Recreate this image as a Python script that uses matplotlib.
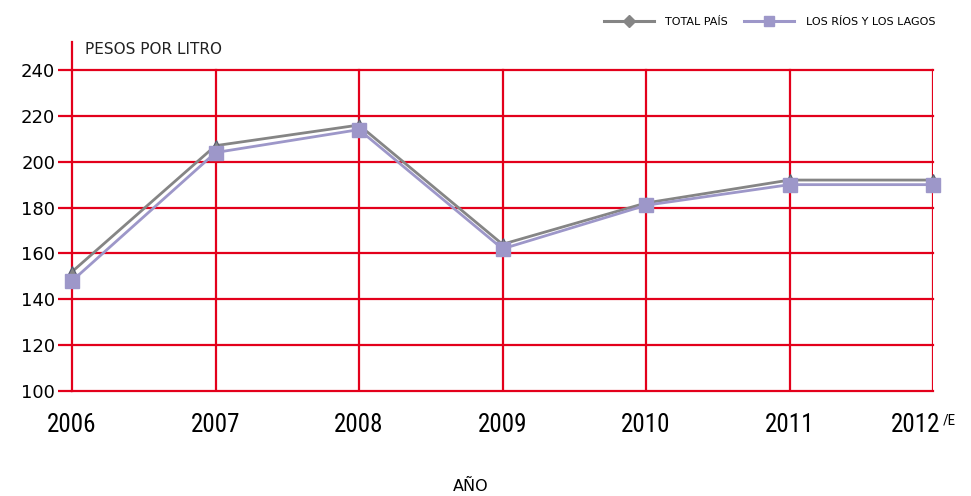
import matplotlib
matplotlib.use("Agg")
import matplotlib.pyplot as plt
from matplotlib.lines import Line2D
from matplotlib.transforms import ScaledTranslation
from matplotlib import font_manager as fm

years = [2006, 2007, 2008, 2009, 2010, 2011, 2012]
year_labels = ["2006", "2007", "2008", "2009", "2010", "2011", "2012"]
last_label_sup = "/E"
total_pais = [152, 207, 216, 164, 182, 192, 192]
los_rios_lagos = [148, 204, 214, 162, 181, 190, 190]
yticks = [100, 120, 140, 160, 180, 200, 220, 240]

RED = "#e3001b"
GRAY = "#858585"
PURPLE = "#9d97c9"

# pick a condensed font if one is installed
cond_family = "DejaVu Sans"
cond_stretch = "normal"
names = {f.name: f for f in fm.fontManager.ttflist}
for cand in ["Liberation Sans Narrow", "DejaVu Sans Condensed", "Roboto Condensed", "Open Sans Condensed"]:
    if cand in names:
        cond_family = cand
        break
else:
    for f in fm.fontManager.ttflist:
        if f.name == "DejaVu Sans" and f.stretch in ("condensed", "semi-condensed") and f.weight in (400, "normal"):
            cond_stretch = "condensed"
            break

fig = plt.figure(figsize=(9.71, 4.96), dpi=100)
ax = fig.add_axes([72/971, 1-391/496, (933-72)/971, (391-42)/496])

ax.set_xlim(2006, 2012)
ax.set_ylim(100, 100 + (240-100) * (391-42) / (391-70))

for y in yticks:
    ax.plot([2006, 2012], [y, y], color=RED, lw=1.6, zorder=1, clip_on=False)
for x in years[1:]:
    ax.plot([x, x], [100, 240], color=RED, lw=1.6, zorder=1)

ax.plot(years, total_pais, color=GRAY, lw=2.0, marker="^", ms=9,
        mfc=GRAY, mec="#555a70", mew=0.8, zorder=3, clip_on=False)
ax.plot(years, los_rios_lagos, color=PURPLE, lw=2.0, marker="s", ms=10,
        mfc=PURPLE, mec=PURPLE, zorder=4, clip_on=False)

for s in ["top", "right", "bottom"]:
    ax.spines[s].set_visible(False)
ax.spines["left"].set_color(RED)
ax.spines["left"].set_linewidth(1.6)

ax.set_yticks(yticks)
ax.set_yticklabels([str(v) for v in yticks], fontsize=13)
ax.tick_params(axis="y", length=10, width=1.6, color=RED, pad=2)
ax.set_xticks(years)
ax.set_xticklabels(year_labels, fontsize=18, family=cond_family, stretch=cond_stretch)
ax.tick_params(axis="x", length=0, pad=16)
lab = ax.get_xticklabels()[-1]
lab.set_transform(lab.get_transform() + ScaledTranslation(-17/100, 0, fig.dpi_scale_trans))
ax.annotate(last_label_sup, xy=(years[-1], 100), xycoords="data",
            xytext=(7, -16), textcoords="offset points", fontsize=11,
            ha="left", va="top", family=cond_family, stretch=cond_stretch)

fig.text(85/971, 1-50/496, "PESOS POR LITRO", fontsize=11, va="center", ha="left", color="#222222")
fig.text(471/971, 1-486/496, "AÑO", fontsize=11.5, va="center", ha="center")

handles = [Line2D([], [], color=GRAY, lw=2.2, marker="D", ms=6, mfc=GRAY, mec=GRAY),
           Line2D([], [], color=PURPLE, lw=2.2, marker="s", ms=7, mfc=PURPLE, mec=PURPLE)]
fig.legend(handles, ["TOTAL PAÍS", "LOS RÍOS Y LOS LAGOS"], loc="center right",
           bbox_to_anchor=(945/971, 1-22/496), ncol=2, frameon=False, fontsize=8,
           handlelength=4.5, columnspacing=1.5, handletextpad=1.0)

fig.savefig("out.png", dpi=100)
